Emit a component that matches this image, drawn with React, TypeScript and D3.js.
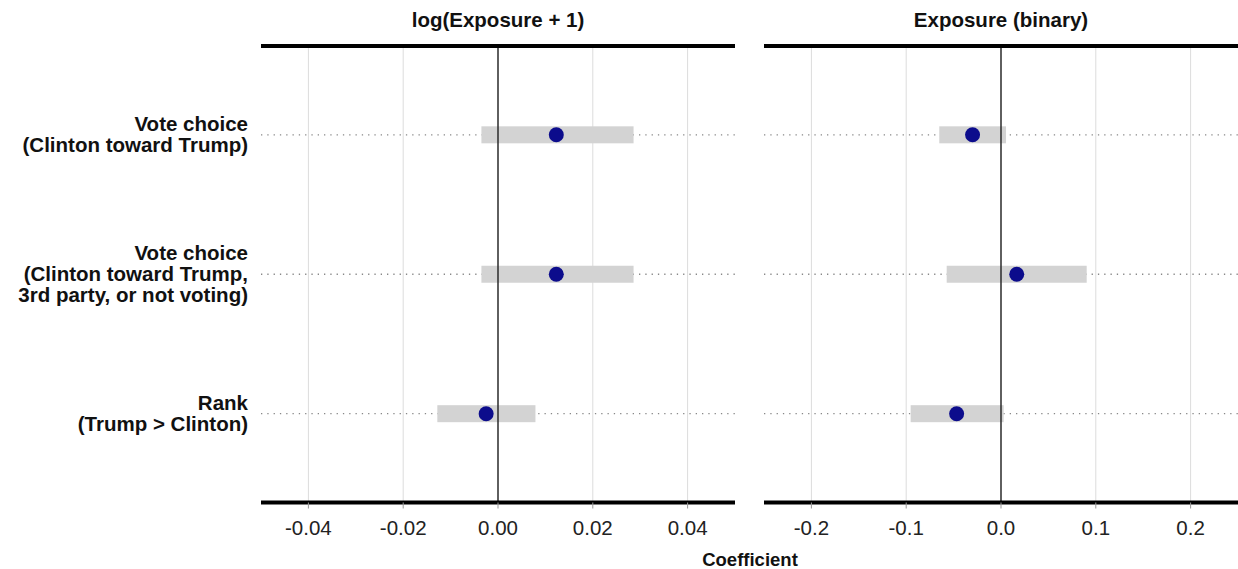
import React from "react";
import * as d3 from "d3";

const categories: string[][] = [
  ["Vote choice", "(Clinton toward Trump)"],
  ["Vote choice", "(Clinton toward Trump,", "3rd party, or not voting)"],
  ["Rank", "(Trump > Clinton)"],
];
const panelTitles = ["log(Exposure + 1)", "Exposure (binary)"];

const logEstimate = [0.0123, 0.0123, -0.0025];
const logLower = [-0.0035, -0.0035, -0.0128];
const logUpper = [0.0286, 0.0286, 0.0079];
const logTicks = [-0.04, -0.02, 0.0, 0.02, 0.04];
const logDomain = [-0.05, 0.05];

const binEstimate = [-0.03, 0.0166, -0.0468];
const binLower = [-0.0651, -0.0573, -0.0953];
const binUpper = [0.0053, 0.0904, 0.0028];
const binTicks = [-0.2, -0.1, 0.0, 0.1, 0.2];
const binDomain = [-0.25, 0.25];

const W = 1238;
const H = 569;
const TOP = 46;
const BOTTOM = 502.5;
const FONT = "'Liberation Sans', Arial, Helvetica, sans-serif";
const FS = 20.5;

type Panel = {
  title: string;
  est: number[];
  lo: number[];
  hi: number[];
  ticks: number[];
  domain: number[];
  x0: number;
  x1: number;
  fmt: (v: number) => string;
};

const panels: Panel[] = [
  {
    title: panelTitles[0],
    est: logEstimate,
    lo: logLower,
    hi: logUpper,
    ticks: logTicks,
    domain: logDomain,
    x0: 261,
    x1: 735,
    fmt: d3.format(".2f"),
  },
  {
    title: panelTitles[1],
    est: binEstimate,
    lo: binLower,
    hi: binUpper,
    ticks: binTicks,
    domain: binDomain,
    x0: 764,
    x1: 1238,
    fmt: d3.format(".1f"),
  },
];

const keys = categories.map((_, i) => String(i));
const y = d3.scalePoint<string>().domain(keys).range([TOP, BOTTOM]).padding(0.637);

function PanelView({ p }: { p: Panel }) {
  const x = d3.scaleLinear().domain(p.domain).range([p.x0, p.x1]);
  const cx = (p.x0 + p.x1) / 2;
  return (
    <g>
      {p.ticks.map((t) => (
        <line key={"g" + t} x1={x(t)} x2={x(t)} y1={TOP} y2={BOTTOM} stroke="#dcdcdc" strokeWidth={1} />
      ))}
      {keys.map((k) => (
        <line
          key={"d" + k}
          x1={p.x0}
          x2={p.x1}
          y1={y(k)}
          y2={y(k)}
          stroke="#888"
          strokeWidth={1.3}
          strokeDasharray="1.3,5"
        />
      ))}
      {keys.map((k, i) => (
        <rect
          key={"r" + k}
          x={x(p.lo[i])}
          width={x(p.hi[i]) - x(p.lo[i])}
          y={(y(k) as number) - 8.5}
          height={17}
          fill="#d3d3d3"
        />
      ))}
      <line x1={x(0)} x2={x(0)} y1={TOP} y2={BOTTOM} stroke="#000" strokeWidth={1.2} />
      {keys.map((k, i) => (
        <circle key={"c" + k} cx={x(p.est[i])} cy={y(k)} r={7.5} fill="#0c0c8c" />
      ))}
      <line x1={p.x0} x2={p.x1} y1={TOP} y2={TOP} stroke="#000" strokeWidth={4} />
      <line x1={p.x0} x2={p.x1} y1={BOTTOM} y2={BOTTOM} stroke="#000" strokeWidth={4} />
      {p.ticks.map((t) => (
        <g key={"t" + t}>
          <line x1={x(t)} x2={x(t)} y1={BOTTOM} y2={BOTTOM + 6} stroke="#999" strokeWidth={1} />
          <text x={x(t)} y={535} textAnchor="middle" fontSize={FS} fontFamily={FONT} fill="#222">
            {p.fmt(t).replace("−", "-")}
          </text>
        </g>
      ))}
      <text x={cx} y={27} textAnchor="middle" fontSize={FS} fontWeight="bold" fontFamily={FONT} fill="#111">
        {p.title}
      </text>
    </g>
  );
}

export default function App() {
  return (
    <svg
      width={W}
      height={H}
      style={{ position: "absolute", left: 0, top: 0, display: "block", background: "#fff" }}
    >
      {panels.map((p, i) => (
        <PanelView key={i} p={p} />
      ))}
      {categories.map((lines, i) => {
        const cy = y(String(i)) as number;
        const lh = 21;
        const start = cy - ((lines.length - 1) * lh) / 2 + 7;
        return (
          <text key={i} textAnchor="end" fontSize={FS} fontWeight="bold" fontFamily={FONT} fill="#111">
            {lines.map((l, j) => (
              <tspan key={j} x={248} y={start + j * lh}>
                {l}
              </tspan>
            ))}
          </text>
        );
      })}
      <text x={750} y={566} textAnchor="middle" fontSize={18.5} fontWeight="bold" fontFamily={FONT} fill="#111">
        Coefficient
      </text>
    </svg>
  );
}
